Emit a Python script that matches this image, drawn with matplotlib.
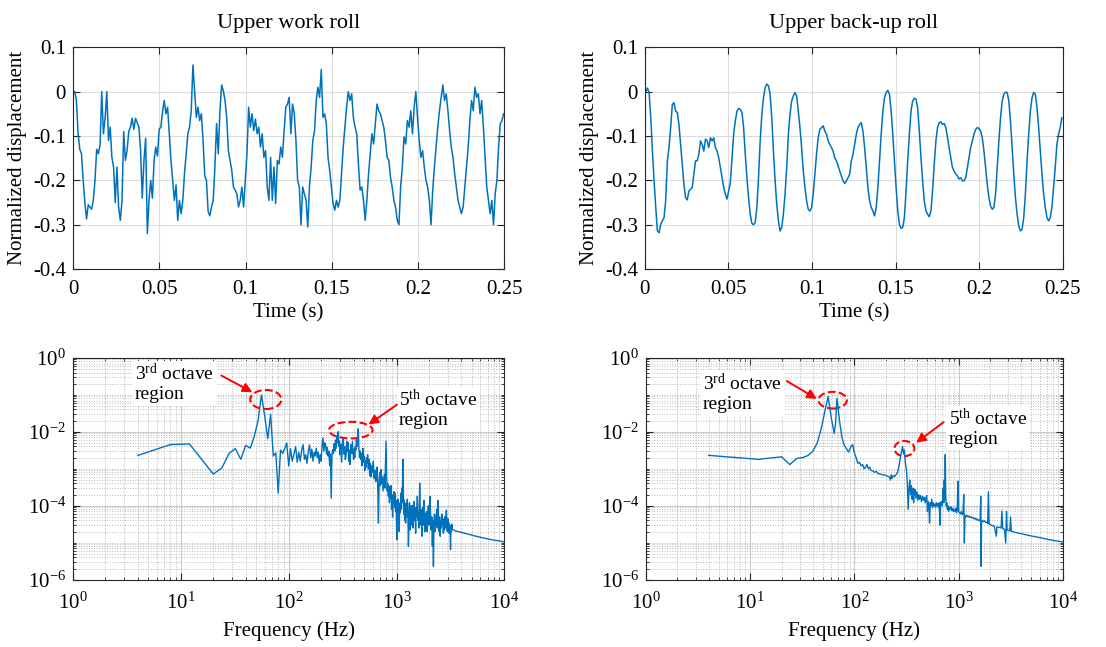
import numpy as np
import matplotlib.pyplot as plt
from matplotlib.patches import Ellipse
from matplotlib.ticker import LogLocator, NullFormatter

plt.rcParams['font.family'] = ['Liberation Serif', 'DejaVu Serif']
plt.rcParams['mathtext.fontset'] = 'custom'
plt.rcParams['mathtext.rm'] = 'Liberation Serif'
plt.rcParams['mathtext.it'] = 'Liberation Serif:italic'
plt.rcParams['axes.unicode_minus'] = False

# ---- time signals (~1 ms apart) ----
uw_disp = [0.0, -0.02, -0.095, -0.13, -0.14, -0.2, -0.25, -0.287, -0.255, -0.26, -0.265, -0.245, -0.2, -0.13,
           -0.14, -0.12, 0.0, -0.095, -0.06, 0.0, -0.11, -0.08, -0.148, -0.17, -0.25, -0.17, -0.26, -0.29,
           -0.245, -0.09, -0.155, -0.133, -0.09, -0.08, -0.06, -0.085, -0.06, -0.07, -0.08, -0.133, -0.24,
           -0.155, -0.105, -0.32, -0.245, -0.2, -0.24, -0.155, -0.125, -0.145, -0.085, -0.08, -0.045, -0.02,
           -0.05, -0.035, -0.095, -0.155, -0.2, -0.245, -0.21, -0.29, -0.245, -0.275, -0.245, -0.185, -0.14,
           -0.095, -0.08, -0.043, 0.06, 0.002, -0.058, -0.035, -0.065, -0.05, -0.11, -0.19, -0.2, -0.27,
           -0.28, -0.26, -0.245, -0.17, -0.072, -0.14, -0.043, 0.015, 0.002, -0.02, -0.058, -0.133, -0.155,
           -0.178, -0.215, -0.222, -0.23, -0.26, -0.245, -0.215, -0.26, -0.2, -0.14, -0.035, -0.08, -0.05,
           -0.088, -0.062, -0.095, -0.08, -0.125, -0.095, -0.148, -0.133, -0.215, -0.245, -0.148, -0.245,
           -0.17, -0.252, -0.155, -0.163, -0.125, -0.148, -0.088, -0.035, -0.028, -0.013, -0.095, -0.028,
           -0.05, -0.11, -0.2, -0.215, -0.3, -0.215, -0.23, -0.245, -0.305, -0.215, -0.17, -0.11, -0.088,
           -0.02, 0.01, -0.013, 0.05, -0.058, -0.05, -0.072, -0.148, -0.178, -0.215, -0.252, -0.267, -0.245,
           -0.26, -0.245, -0.185, -0.125, -0.08, -0.035, 0.0, -0.02, -0.005, -0.058, -0.08, -0.095, -0.163,
           -0.222, -0.215, -0.245, -0.29, -0.245, -0.185, -0.14, -0.095, -0.118, -0.072, -0.028, -0.043,
           -0.05, -0.065, -0.08, -0.11, -0.148, -0.155, -0.193, -0.215, -0.245, -0.26, -0.29, -0.3, -0.215,
           -0.17, -0.102, -0.118, -0.065, -0.08, -0.043, -0.095, -0.035, 0.0, -0.058, -0.11, -0.148, -0.133,
           -0.17, -0.2, -0.215, -0.245, -0.3, -0.222, -0.17, -0.125, -0.08, -0.043, -0.013, 0.015, -0.02,
           -0.005, -0.043, -0.088, -0.125, -0.148, -0.185, -0.215, -0.245, -0.26, -0.275, -0.26, -0.215,
           -0.17, -0.125, -0.065, -0.02, -0.043, 0.01, -0.013, -0.005, -0.05, -0.02, -0.08, -0.148, -0.215,
           -0.245, -0.275, -0.245, -0.3, -0.23, -0.2, -0.125, -0.072, -0.065, -0.05]

ub_disp = [0.0, 0.008, -0.002, -0.059, -0.134, -0.201, -0.261, -0.314, -0.318, -0.299, -0.291, -0.284,
           -0.246, -0.156, -0.126, -0.081, -0.029, -0.025, -0.044, -0.047, -0.074, -0.119, -0.164, -0.209,
           -0.239, -0.244, -0.224, -0.22, -0.216, -0.186, -0.156, -0.156, -0.141, -0.111, -0.119, -0.134,
           -0.107, -0.111, -0.126, -0.104, -0.111, -0.104, -0.126, -0.134, -0.149, -0.171, -0.194, -0.216,
           -0.231, -0.242, -0.224, -0.205, -0.149, -0.096, -0.066, -0.044, -0.038, -0.04, -0.047, -0.081,
           -0.141, -0.194, -0.239, -0.276, -0.297, -0.3, -0.295, -0.261, -0.194, -0.111, -0.051, -0.014,
           0.009, 0.017, 0.013, -0.006, -0.059, -0.134, -0.201, -0.254, -0.291, -0.314, -0.306, -0.276,
           -0.231, -0.171, -0.096, -0.051, -0.021, -0.01, -0.002, -0.01, -0.044, -0.081, -0.126, -0.179,
           -0.216, -0.246, -0.265, -0.269, -0.261, -0.231, -0.186, -0.141, -0.104, -0.085, -0.081, -0.077,
           -0.089, -0.096, -0.111, -0.119, -0.126, -0.134, -0.149, -0.156, -0.167, -0.179, -0.19, -0.201,
           -0.207, -0.201, -0.194, -0.186, -0.156, -0.141, -0.119, -0.096, -0.081, -0.074, -0.07, -0.089,
           -0.126, -0.171, -0.216, -0.246, -0.261, -0.269, -0.28, -0.261, -0.216, -0.156, -0.096, -0.044,
           -0.014, -0.002, 0.003, -0.006, -0.044, -0.096, -0.156, -0.216, -0.269, -0.299, -0.308, -0.306,
           -0.284, -0.224, -0.156, -0.096, -0.044, -0.021, -0.015, -0.017, -0.036, -0.089, -0.149, -0.201,
           -0.246, -0.269, -0.276, -0.282, -0.269, -0.224, -0.164, -0.111, -0.081, -0.07, -0.068, -0.074,
           -0.072, -0.081, -0.104, -0.126, -0.149, -0.171, -0.179, -0.186, -0.19, -0.197, -0.194, -0.201,
           -0.201, -0.194, -0.171, -0.149, -0.126, -0.111, -0.096, -0.085, -0.081, -0.083, -0.089, -0.104,
           -0.134, -0.171, -0.209, -0.239, -0.258, -0.265, -0.261, -0.231, -0.171, -0.111, -0.059, -0.021,
           -0.006, -0.001, -0.002, -0.021, -0.066, -0.126, -0.186, -0.239, -0.276, -0.303, -0.314, -0.31,
           -0.284, -0.231, -0.156, -0.096, -0.044, -0.014, -0.002, -0.006, -0.036, -0.081, -0.134, -0.186,
           -0.231, -0.261, -0.284, -0.291, -0.284, -0.261, -0.216, -0.171, -0.119, -0.096, -0.081, -0.059]

uw_time = np.linspace(0.001, 0.2496, len(uw_disp))
ub_time = np.linspace(0.0006, 0.2494, len(ub_disp))

# ---- amplitude spectra ----
uw_freq = [4, 8, 12, 20, 24, 28, 32, 36, 40, 44, 48, 52, 56, 60, 64, 68, 72, 76, 80, 84, 88, 92, 96, 100,
           104, 108, 112, 116, 120, 124, 128, 132, 136, 140, 144, 148, 152, 156, 160, 164, 168, 172, 176,
           180, 184, 188, 192, 196, 200, 204, 208, 212, 216, 220, 224, 228, 232, 236, 240, 244, 248, 252,
           256, 260, 264, 268, 272, 276, 280, 284, 288, 292, 296, 300, 305, 310, 315, 320, 325, 330, 335,
           340, 345, 350, 355, 360, 365, 370, 375, 380, 385, 390, 395, 400, 405, 410, 415, 420, 425, 430,
           436, 442, 448, 454, 460, 466, 472, 478, 484, 490, 496, 502, 508, 514, 520, 526, 532, 540, 548,
           556, 564, 572, 580, 590, 600, 610, 620, 630, 640, 650, 660, 670, 680, 690, 700, 710, 720, 730,
           740, 750, 760, 770, 780, 790, 800, 810, 820, 830, 840, 850, 860, 870, 880, 890, 900, 910, 920,
           930, 940, 950, 960, 970, 980, 990, 1000, 1010, 1020, 1030, 1040, 1050, 1060, 1070, 1080, 1090,
           1100, 1110, 1120, 1130, 1140, 1150, 1160, 1170, 1180, 1190, 1200, 1215, 1230, 1245, 1260, 1275,
           1290, 1305, 1320, 1335, 1350, 1365, 1380, 1395, 1410, 1425, 1440, 1455, 1470, 1488, 1505, 1520,
           1540, 1560, 1580, 1600, 1620, 1640, 1660, 1680, 1700, 1720, 1740, 1760, 1780, 1800, 1820, 1840,
           1860, 1880, 1900, 1925, 1950, 1975, 2000, 2025, 2050, 2075, 2100, 2125, 2150, 2175, 2200, 2225,
           2250, 2275, 2300, 2330, 2360, 2390, 2420, 2450, 2480, 2510, 2540, 2570, 2600, 2630, 2660, 2690,
           2720, 2750, 2780, 2810, 2840, 2870, 2900, 2930, 2960, 2990, 3020, 3050, 3080, 3110, 3140, 3170,
           3200, 3230, 3260, 3300, 3500, 4000, 4500, 5000, 6000, 7000, 8000, 9000, 10000]
uw_amp = [2.3e-3, 4.5e-3, 4.7e-3, 7.2e-4, 1.05e-3, 2.6e-3, 3.5e-3, 1.8e-3, 4.3e-3, 3.6e-3, 7.5e-3, 2.0e-2,
          0.1, 2.6e-2, 6.5e-3, 3.0e-2, 2.2e-3, 2.7e-3, 2.2e-4, 3.2e-3, 2.6e-3, 3.5e-3, 5.0e-3, 1.2e-3,
          3.5e-3, 1.6e-3, 2.5e-3, 4.0e-3, 1.5e-3, 2.8e-3, 1.6e-3, 3.2e-3, 4.5e-3, 1.8e-3, 2.4e-3, 1.4e-3,
          3.0e-3, 4.4e-3, 2.0e-3, 3.4e-3, 1.6e-3, 2.8e-3, 2.2e-3, 3.6e-3, 2.0e-3, 2.8e-3, 1.4e-3, 2.4e-3,
          1.6e-3, 4.2e-3, 6.8e-3, 3.0e-3, 5.0e-3, 4.2e-3, 2.5e-3, 3.8e-3, 2.2e-3, 3.0e-3, 1.2e-3, 2.5e-3,
          1.6e-4, 2.2e-3, 3.3e-3, 2.6e-3, 4.8e-3, 3.0e-3, 6.0e-3, 3.6e-3, 7.5e-3, 5.0e-3, 1.0e-2, 4.0e-3,
          5.5e-3, 2.4e-3, 4.5e-3, 1.5e-3, 5.0e-3, 6.5e-3, 2.5e-3, 4.0e-3, 1.8e-3, 2.2e-3, 5.5e-3, 3.0e-3,
          5.2e-3, 1.6e-3, 3.2e-3, 1.3e-3, 2.8e-3, 4.5e-3, 2.6e-3, 5.5e-3, 3.0e-3, 1.8e-3, 3.4e-3, 2.0e-3,
          4.0e-3, 3.2e-3, 6.0e-3, 4.0e-3, 8.0e-3, 1.2e-2, 3.5e-3, 2.0e-3, 3.0e-3, 1.8e-3, 2.6e-3, 1.2e-3,
          2.8e-3, 3.6e-3, 1.5e-3, 2.2e-3, 9.0e-4, 1.6e-3, 1.1e-3, 2.0e-3, 1.4e-3, 2.4e-3, 1.0e-3, 1.8e-3,
          6.5e-4, 1.4e-3, 6.0e-4, 1.2e-3, 8.0e-4, 1.6e-3, 5.5e-4, 9.0e-4, 4.5e-4, 5.0e-4, 1.1e-3, 3.0e-4,
          3.4e-5, 5.0e-4, 8.0e-4, 3.5e-4, 9.5e-4, 4.0e-4, 6.0e-4, 2.5e-4, 4.2e-4, 7.0e-4, 3.0e-4, 1.2e-3,
          5.5e-3, 6.0e-4, 2.5e-4, 4.0e-4, 1.8e-4, 3.4e-4, 1.2e-4, 2.8e-4, 1.6e-4, 3.5e-4, 8.0e-5, 1.8e-4,
          5.0e-5, 2.0e-4, 1.1e-4, 2.4e-4, 9.0e-5, 2.2e-4, 7.0e-5, 1.4e-4, 3.0e-5, 1.2e-5, 8.0e-5, 1.5e-4,
          6.0e-5, 1.2e-4, 2.0e-5, 1.0e-4, 6.5e-5, 1.3e-4, 2.2e-4, 8.0e-5, 3.0e-4, 1.2e-4, 4.0e-4, 1.8e-3,
          2.0e-4, 6.0e-5, 1.4e-4, 4.0e-5, 1.0e-4, 3.4e-5, 1.2e-4, 5.0e-5, 1.5e-4, 6.0e-5, 8.0e-6, 4.5e-5,
          1.2e-4, 2.2e-5, 6.5e-5, 1.0e-4, 3.0e-5, 7.5e-5, 1.0e-4, 2.5e-5, 6.0e-5, 1.3e-4, 4.0e-5, 7.0e-5,
          1.8e-5, 9.0e-5, 5.0e-5, 1.8e-4, 4.0e-5, 7.0e-5, 2.5e-5, 4.1e-4, 6.0e-5, 3.0e-5, 8.0e-5, 1.5e-5,
          5.0e-5, 9.0e-5, 3.0e-5, 1.4e-4, 4.5e-5, 2.0e-5, 6.0e-5, 3.5e-5, 7.0e-5, 2.0e-5, 5.0e-5, 1.0e-4,
          3.0e-5, 6.0e-5, 1.8e-4, 4.0e-5, 2.2e-5, 5.0e-5, 8.0e-6, 4.0e-5, 2.3e-6, 3.0e-5, 6.0e-5, 2.0e-5,
          5.2e-5, 3.0e-5, 8.0e-5, 2.5e-5, 1.4e-4, 4.0e-5, 2.0e-5, 5.0e-5, 1.5e-5, 4.0e-5, 2.5e-5, 6.0e-5,
          3.0e-5, 4.5e-5, 1.8e-5, 3.5e-5, 2.2e-5, 5.0e-5, 2.5e-5, 4.0e-5, 7.5e-5, 3.0e-5, 2.0e-5, 4.5e-5,
          2.5e-5, 3.5e-5, 1.8e-5, 3.0e-5, 2.2e-5, 6.5e-6, 2.8e-5, 2.0e-5, 3.2e-5, 2.3e-5, 2.1e-5, 1.9e-5,
          1.75e-5, 1.6e-5, 1.4e-5, 1.27e-5, 1.18e-5, 1.12e-5, 1.05e-5]

ub_freq = [4, 12, 20, 24, 28, 32, 36, 40, 44, 48, 52, 56, 60, 64, 66, 68, 72, 76, 80, 84, 88, 92, 96, 100,
           104, 108, 112, 116, 120, 124, 128, 132, 136, 140, 144, 150, 156, 162, 168, 176, 184, 192, 200,
           208, 216, 222, 226, 230, 236, 244, 252, 260, 268, 276, 284, 290, 296, 302, 308, 316, 322, 328,
           334, 340, 346, 352, 358, 364, 370, 376, 382, 390, 398, 406, 414, 422, 430, 440, 450, 460, 470,
           478, 486, 494, 502, 510, 518, 526, 534, 542, 552, 562, 572, 582, 592, 602, 612, 622, 632, 642,
           652, 662, 672, 682, 692, 702, 712, 720, 728, 736, 744, 752, 760, 770, 780, 790, 800, 815, 830,
           845, 860, 875, 890, 905, 920, 940, 955, 970, 985, 1000, 1020, 1040, 1060, 1080, 1100, 1120, 1135,
           1150, 1170, 1200, 1230, 1260, 1290, 1320, 1350, 1380, 1410, 1440, 1470, 1500, 1540, 1580, 1610,
           1630, 1645, 1660, 1700, 1740, 1780, 1820, 1860, 1900, 1930, 1960, 2000, 2050, 2100, 2150, 2200,
           2300, 2330, 2400, 2480, 2560, 2600, 2650, 2750, 2830, 2880, 2920, 3000, 3100, 3150, 3200, 3500,
           4000, 4500, 5000, 6000, 7000, 8000, 9000, 10000]
ub_amp = [2.3e-3, 1.8e-3, 2.1e-3, 1.3e-3, 1.9e-3, 2.0e-3, 2.3e-3, 3.0e-3, 5.0e-3, 1.2e-2, 3.5e-2, 9.0e-2,
          2.4e-2, 9.0e-3, 1.7e-2, 8.0e-2, 2.0e-2, 7.0e-3, 4.2e-3, 3.5e-3, 2.8e-3, 3.8e-3, 4.5e-3, 2.7e-3,
          2.0e-3, 1.4e-3, 1.5e-3, 1.2e-3, 1.3e-3, 1.0e-3, 1.1e-3, 1.3e-3, 1.0e-3, 1.1e-3, 9.0e-4, 8.8e-4,
          8.0e-4, 8.5e-4, 7.5e-4, 7.2e-4, 7.0e-4, 6.8e-4, 6.6e-4, 6.3e-4, 6.0e-4, 5.0e-4, 6.8e-4, 5.5e-4,
          6.5e-4, 6.2e-4, 7.0e-4, 8.0e-4, 1.2e-3, 2.0e-3, 3.0e-3, 4.0e-3, 2.5e-3, 3.2e-3, 1.5e-3, 9.0e-4,
          4.0e-4, 8.0e-5, 3.0e-4, 5.0e-4, 2.0e-4, 3.5e-4, 1.5e-4, 3.0e-4, 1.2e-4, 2.2e-4, 2.8e-4, 1.6e-4,
          2.4e-4, 1.4e-4, 2.0e-4, 1.5e-4, 1.9e-4, 1.3e-4, 1.8e-4, 1.4e-4, 1.7e-4, 1.2e-4, 1.5e-4, 1.9e-4,
          7.0e-5, 1.3e-4, 1.1e-4, 3.4e-5, 1.2e-4, 1.0e-4, 1.5e-4, 9.0e-5, 1.2e-4, 1.0e-4, 1.1e-4, 9.0e-5,
          1.2e-4, 1.0e-4, 1.15e-4, 9.0e-5, 1.2e-4, 3.0e-5, 1.1e-4, 1.3e-4, 1.0e-4, 1.4e-4, 3.0e-4, 1.2e-4,
          5.0e-4, 1.5e-4, 2.4e-3, 2.0e-4, 1.0e-4, 1.2e-4, 8.0e-5, 1.0e-4, 7.0e-5, 9.0e-5, 8.0e-5, 9.5e-5,
          7.5e-5, 8.5e-5, 7.0e-5, 8.0e-5, 7.0e-5, 8.5e-5, 6.5e-5, 7.5e-5, 4.6e-4, 7.0e-5, 6.5e-5, 6.0e-5,
          7.0e-5, 5.8e-5, 6.2e-5, 2.0e-4, 9.8e-6, 5.5e-5, 5.0e-5, 5.5e-5, 5.0e-5, 5.3e-5, 4.8e-5, 5.0e-5,
          4.6e-5, 4.8e-5, 4.4e-5, 4.6e-5, 4.2e-5, 4.4e-5, 4.0e-5, 4.2e-5, 3.8e-5, 1.8e-4, 2.3e-6, 3.5e-5,
          4.0e-5, 3.7e-5, 3.9e-5, 3.5e-5, 3.6e-5, 3.3e-5, 2.4e-4, 3.2e-5, 3.1e-5, 3.0e-5, 2.9e-5, 2.9e-5,
          2.8e-5, 1.5e-5, 2.7e-5, 2.6e-5, 2.6e-5, 2.5e-5, 7.2e-5, 2.4e-5, 2.3e-5, 9.8e-6, 7.0e-5, 2.2e-5,
          2.15e-5, 2.1e-5, 5.0e-5, 2.05e-5, 1.9e-5, 1.75e-5, 1.62e-5, 1.52e-5, 1.38e-5, 1.25e-5, 1.16e-5,
          1.1e-5, 1.05e-5]

time_ticks = [0, 0.05, 0.1, 0.15, 0.2, 0.25]
time_labels = ['0', '0.05', '0.1', '0.15', '0.2', '0.25']
disp_ticks = [-0.4, -0.3, -0.2, -0.1, 0, 0.1]
disp_labels = ['-0.4', '-0.3', '-0.2', '-0.1', '0', '0.1']
freq_ticks = [1, 10, 100, 1000, 10000]
freq_labels = ['$10^{0}$', '$10^{1}$', '$10^{2}$', '$10^{3}$', '$10^{4}$']
amp_ticks = [1e-6, 1e-4, 1e-2, 1]
amp_labels = ['$10^{-6}$', '$10^{-4}$', '$10^{-2}$', '$10^{0}$']

BLUE = '#0072BD'
AXCOL = '#262626'


def style_axes(ax, xpad):
    ax.tick_params(which='both', direction='in', top=True, right=True,
                   labelsize=15, color=AXCOL, labelcolor='black')
    ax.tick_params(which='major', length=5, width=0.8)
    ax.tick_params(which='minor', length=2.5, width=0.6)
    ax.tick_params(axis='x', which='major', pad=xpad)
    ax.tick_params(axis='y', which='major', pad=5)
    for s in ax.spines.values():
        s.set_color(AXCOL)
        s.set_linewidth(0.8)
    ax.set_axisbelow(True)


def time_plot(ax, t, v, title):
    ax.plot(t, v, color=BLUE, lw=1.1)
    ax.set_xlim(0, 0.25)
    ax.set_ylim(-0.4, 0.1)
    ax.set_xticks(time_ticks)
    ax.set_xticklabels(time_labels)
    ax.set_yticks(disp_ticks)
    ax.set_yticklabels(disp_labels)
    ax.grid(True, color='#dcdcdc', lw=0.8)
    ax.set_xlabel('Time (s)', fontsize=15, labelpad=3)
    ax.set_ylabel('Normalized displacement', fontsize=15, labelpad=4)
    ax.set_title(title, fontsize=16, pad=14)
    style_axes(ax, 8)


def spec_plot(ax, f, a):
    ax.loglog(f, a, color=BLUE, lw=1.0)
    ax.set_xlim(1, 1e4)
    ax.set_ylim(1e-6, 1)
    ax.set_xticks(freq_ticks)
    ax.set_xticklabels(freq_labels)
    ax.set_yticks(amp_ticks)
    ax.set_yticklabels(amp_labels)
    ax.xaxis.set_minor_locator(LogLocator(base=10, subs=np.arange(1, 10), numticks=30))
    ax.yaxis.set_minor_locator(LogLocator(base=10, subs=np.arange(1, 10), numticks=30))
    ax.xaxis.set_minor_formatter(NullFormatter())
    ax.yaxis.set_minor_formatter(NullFormatter())
    ax.grid(True, which='major', color='#cccccc', lw=0.8)
    ax.grid(True, which='minor', color='#b8b8b8', lw=0.7, ls=':')
    ax.set_xlabel('Frequency (Hz)', fontsize=15, labelpad=6)
    style_axes(ax, 9)


def mark(ax, label, txt_xy, ell, tail, head):
    ax.text(txt_xy[0], txt_xy[1], label, transform=ax.transAxes, ha='left', va='top',
            fontsize=14, linespacing=1.15,
            bbox=dict(facecolor='white', edgecolor='none', pad=1.5))
    ax.add_patch(Ellipse(ell[:2], ell[2], ell[3], transform=ax.transAxes, fill=False,
                         edgecolor='red', ls='--', lw=1.5))
    ax.annotate('', xy=head, xytext=tail, xycoords='axes fraction', textcoords='axes fraction',
                arrowprops=dict(arrowstyle='-|>', color='red', lw=1.4, mutation_scale=14,
                                shrinkA=0, shrinkB=0))


fig = plt.figure(figsize=(11.06, 6.47), dpi=100)
ax_uw = fig.add_axes([0.066, 0.584, 0.390, 0.343])
ax_ub = fig.add_axes([0.583, 0.584, 0.378, 0.343])
ax_uwf = fig.add_axes([0.066, 0.104, 0.390, 0.343])
ax_ubf = fig.add_axes([0.584, 0.104, 0.377, 0.343])

time_plot(ax_uw, uw_time, uw_disp, 'Upper work roll')
time_plot(ax_ub, ub_time, ub_disp, 'Upper back-up roll')
spec_plot(ax_uwf, uw_freq, uw_amp)
spec_plot(ax_ubf, ub_freq, ub_amp)

mark(ax_uwf, '3$^{\\rm rd}$ octave\nregion', (0.143, 0.975),
     (0.447, 0.812, 0.072, 0.086), (0.344, 0.92), (0.416, 0.845))
mark(ax_uwf, '5$^{\\rm th}$ octave\nregion', (0.755, 0.86),
     (0.644, 0.674, 0.101, 0.075), (0.751, 0.789), (0.685, 0.699))
mark(ax_ubf, '3$^{\\rm rd}$ octave\nregion', (0.137, 0.93),
     (0.448, 0.809, 0.068, 0.075), (0.338, 0.895), (0.41, 0.815))
mark(ax_ubf, '5$^{\\rm th}$ octave\nregion', (0.726, 0.775),
     (0.620, 0.591, 0.048, 0.068), (0.714, 0.71), (0.648, 0.617))

fig.savefig('out.png', dpi=100)
